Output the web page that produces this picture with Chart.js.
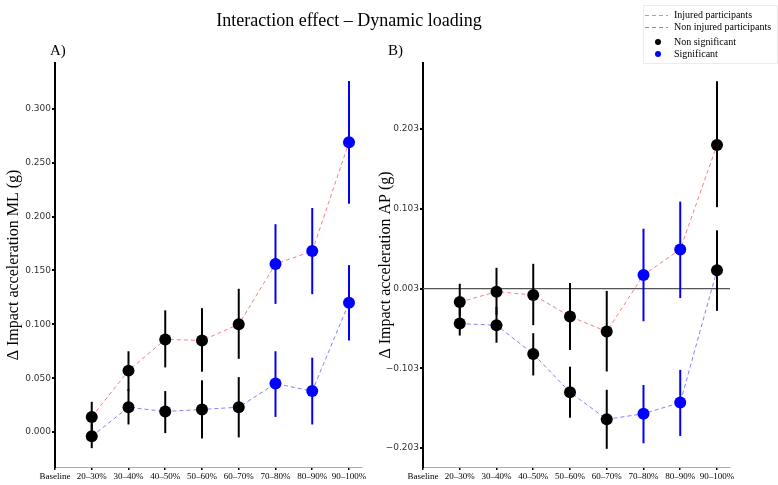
<!DOCTYPE html>
<html>
<head>
<meta charset="utf-8">
<script src="https://cdn.jsdelivr.net/npm/chart.js@4"></script>
<style>
  body { margin: 0; background: #fff; }
  #wrap { position: relative; width: 778px; height: 485px; overflow: hidden; font-family: "Liberation Serif", serif; }
  .txt { position: absolute; color: #000; white-space: nowrap; }
  .box { position: absolute; }
</style>
</head>
<body>
<div id="wrap">
  <div class="box" style="left:0;top:0;width:389px;height:485px"><canvas id="chartA" width="389" height="485"></canvas></div>
  <div class="box" style="left:372px;top:0;width:406px;height:485px"><canvas id="chartB" width="406" height="485"></canvas></div>

  <div class="txt" style="left:0;width:698px;top:11px;font-size:18px;line-height:18px;text-align:center">Interaction effect – Dynamic loading</div>
  <div class="txt" style="left:50px;top:43px;font-size:15px;line-height:15px">A)</div>
  <div class="txt" style="left:388px;top:43px;font-size:15px;line-height:15px">B)</div>

  <div id="legend" class="box" style="left:643px;top:5px;width:133px;height:57px;border:1px solid #ececec;font-size:10px;line-height:10px"></div>
</div>
<script>
// categories on the x axis
const categories = ['Baseline', '20–30%', '30–40%', '40–50%', '50–60%', '60–70%', '70–80%', '80–90%', '90–100%'];
const xPos = [1, 2, 3, 4, 5, 6, 7, 8];

// A) impact acceleration ML (g)
const mlInjured = [0.014, 0.057, 0.086, 0.085, 0.100, 0.156, 0.168, 0.269];
const mlInjuredLo = [0.000, 0.038, 0.060, 0.056, 0.068, 0.119, 0.128, 0.212];
const mlInjuredHi = [0.028, 0.075, 0.113, 0.115, 0.133, 0.193, 0.208, 0.326];
const mlInjuredSig = [0, 0, 0, 0, 0, 1, 1, 1];

const mlNonInjured = [-0.004, 0.023, 0.019, 0.021, 0.023, 0.045, 0.038, 0.120];
const mlNonInjuredLo = [-0.015, 0.007, -0.001, -0.006, -0.005, 0.014, 0.007, 0.085];
const mlNonInjuredHi = [0.008, 0.040, 0.038, 0.048, 0.051, 0.075, 0.069, 0.155];
const mlNonInjuredSig = [0, 0, 0, 0, 0, 1, 1, 1];

// B) impact acceleration AP (g)
const apInjured = [-0.014, -0.001, -0.005, -0.032, -0.051, 0.020, 0.052, 0.183];
const apInjuredLo = [-0.032, -0.030, -0.043, -0.074, -0.101, -0.038, -0.009, 0.105];
const apInjuredHi = [0.009, 0.029, 0.034, 0.010, 0.000, 0.078, 0.112, 0.263];
const apInjuredSig = [0, 0, 0, 0, 0, 1, 1, 0];

const apNonInjured = [-0.041, -0.043, -0.079, -0.127, -0.161, -0.154, -0.140, 0.026];
const apNonInjuredLo = [-0.056, -0.065, -0.106, -0.159, -0.198, -0.191, -0.182, -0.025];
const apNonInjuredHi = [-0.020, -0.020, -0.053, -0.095, -0.124, -0.118, -0.099, 0.076];
const apNonInjuredSig = [0, 0, 0, 0, 0, 1, 1, 0];

// tick labels
const mlTicks = [0, 0.05, 0.1, 0.15, 0.2, 0.25, 0.3];
const mlTickLabels = ['0.000', '0.050', '0.100', '0.150', '0.200', '0.250', '0.300'];
const apTicks = [-0.197, -0.097, 0.003, 0.103, 0.203];
const apTickLabels = ['−0.203', '−0.103', '0.003', '0.103', '0.203'];
const apRefLine = 0.003;

const RED_LINE = 'rgba(255,110,110,0.9)';
const BLUE_LINE = 'rgba(115,115,255,0.9)';
const SIG = '#0000ff';
const NONSIG = '#000000';

function series(label, vals, lo, hi, sig, lineColor) {
  return {
    label,
    data: vals.map((v, i) => ({ x: xPos[i], y: v })),
    lo, hi, sig,
    borderColor: lineColor,
    borderWidth: 1,
    borderDash: [4, 3],
    pointRadius: 6,
    pointHoverRadius: 6,
    pointBorderWidth: 0,
    pointBackgroundColor: sig.map(s => s ? SIG : NONSIG),
    tension: 0,
    fill: false
  };
}

// vertical error bars, drawn under the points
const errorBars = {
  id: 'errorBars',
  beforeDatasetsDraw(chart) {
    const { ctx, scales: { x, y } } = chart;
    ctx.save();
    ctx.lineWidth = 2;
    chart.data.datasets.forEach(ds => {
      ds.data.forEach((p, i) => {
        const px = x.getPixelForValue(p.x);
        ctx.strokeStyle = ds.sig[i] ? SIG : NONSIG;
        ctx.beginPath();
        ctx.moveTo(px, y.getPixelForValue(ds.lo[i]));
        ctx.lineTo(px, y.getPixelForValue(ds.hi[i]));
        ctx.stroke();
      });
    });
    ctx.restore();
  }
};

const refLine = {
  id: 'refLine',
  beforeDatasetsDraw(chart, args, opts) {
    if (opts.value === undefined) return;
    const { ctx, chartArea, scales: { y } } = chart;
    const py = y.getPixelForValue(opts.value);
    ctx.save();
    ctx.strokeStyle = '#555';
    ctx.lineWidth = 1.2;
    ctx.beginPath();
    ctx.moveTo(chartArea.left, py);
    ctx.lineTo(chartArea.right, py);
    ctx.stroke();
    ctx.restore();
  }
};

function makeChart(id, datasets, yMin, yMax, ticks, tickLabels, title, axisW, padRight, ref) {
  return new Chart(document.getElementById(id), {
    type: 'line',
    data: { datasets },
    plugins: [refLine, errorBars],
    options: {
      responsive: false,
      animation: false,
      layout: { padding: { top: 63, right: padRight, bottom: 0, left: 0 } },
      plugins: {
        legend: { display: false },
        tooltip: { enabled: false },
        refLine: { value: ref }
      },
      scales: {
        x: {
          type: 'linear',
          min: 0,
          max: 8.354,
          afterBuildTicks: s => { s.ticks = categories.map((c, i) => ({ value: i })); },
          afterFit: s => { s.height = 18; },
          ticks: {
            callback: (v, i) => categories[i],
            font: { family: 'Liberation Serif', size: 9 },
            color: '#000',
            padding: 1,
            maxRotation: 0,
            autoSkip: false
          },
          grid: { drawOnChartArea: false, drawTicks: true, tickLength: 3, color: '#000', lineWidth: 1.5 },
          border: { display: true, color: '#aaa', width: 1 }
        },
        y: {
          min: yMin,
          max: yMax,
          afterBuildTicks: s => { s.ticks = ticks.map(v => ({ value: v })); },
          afterFit: s => { s.width = axisW; },
          ticks: {
            callback: (v, i) => tickLabels[i],
            font: { family: 'DejaVu Sans', size: 9 },
            color: '#333',
            padding: 1
          },
          title: {
            display: true,
            text: title,
            font: { family: 'Liberation Serif', size: 16 },
            color: '#000',
            padding: { top: 4, bottom: 0 }
          },
          grid: { drawOnChartArea: false, drawTicks: true, tickLength: 3, color: '#000', lineWidth: 2 },
          border: { display: true, color: '#000', width: 2 }
        }
      }
    }
  });
}

makeChart('chartA', [
  series('Injured participants', mlInjured, mlInjuredLo, mlInjuredHi, mlInjuredSig, RED_LINE),
  series('Non injured participants', mlNonInjured, mlNonInjuredLo, mlNonInjuredHi, mlNonInjuredSig, BLUE_LINE)
], -0.0325, 0.3427, mlTicks, mlTickLabels, 'Δ Impact acceleration ML (g)', 55, 27, undefined);

makeChart('chartB', [
  series('Injured participants', apInjured, apInjuredLo, apInjuredHi, apInjuredSig, RED_LINE),
  series('Non injured participants', apNonInjured, apNonInjuredLo, apNonInjuredHi, apNonInjuredSig, BLUE_LINE)
], -0.2208, 0.2858, apTicks, apTickLabels, 'Δ Impact acceleration AP (g)', 51, 48, apRefLine);

// legend
const legendItems = [
  { text: 'Injured participants', kind: 'line', color: RED_LINE, y: 9 },
  { text: 'Non injured participants', kind: 'line', color: BLUE_LINE, y: 21 },
  { text: 'Non significant', kind: 'dot', color: NONSIG, y: 36 },
  { text: 'Significant', kind: 'dot', color: SIG, y: 48 }
];
const lg = document.getElementById('legend');
legendItems.forEach(it => {
  const sym = document.createElement('div');
  sym.style.position = 'absolute';
  if (it.kind === 'line') {
    sym.style.left = '1px'; sym.style.top = it.y + 'px';
    sym.style.width = '23px'; sym.style.height = '1px';
    sym.style.background = 'repeating-linear-gradient(to right, ' + it.color + ' 0 4px, transparent 4px 7px)';
  } else {
    sym.style.left = '11px'; sym.style.top = (it.y - 3) + 'px';
    sym.style.width = '6px'; sym.style.height = '6px';
    sym.style.borderRadius = '50%'; sym.style.background = it.color;
  }
  lg.appendChild(sym);
  const t = document.createElement('div');
  t.className = 'txt';
  t.style.left = '30px'; t.style.top = (it.y - 5) + 'px';
  t.textContent = it.text;
  lg.appendChild(t);
});
</script>
</body>
</html>
